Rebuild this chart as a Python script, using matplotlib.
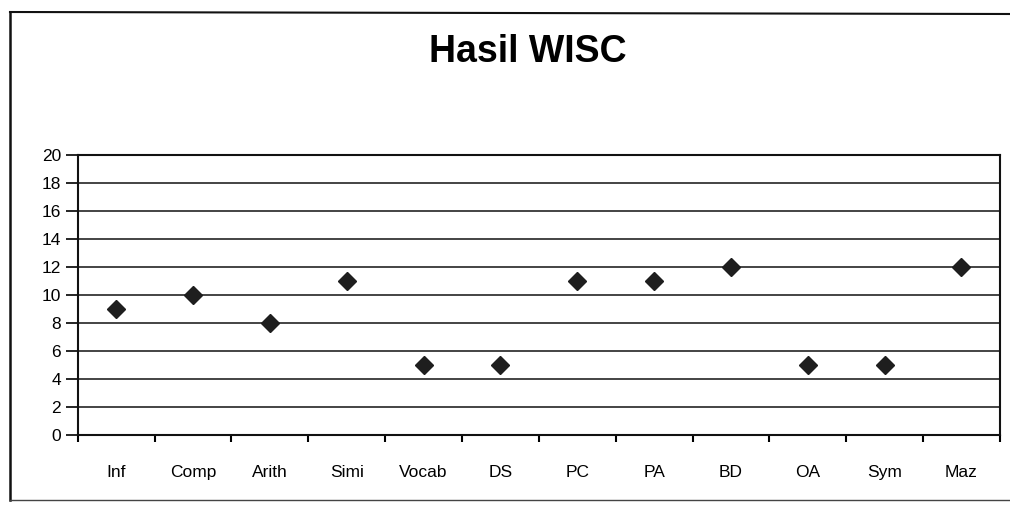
import matplotlib
matplotlib.use("Agg")
import matplotlib.pyplot as plt
from matplotlib.lines import Line2D

categories = ["Inf", "Comp", "Arith", "Simi", "Vocab", "DS", "PC", "PA", "BD", "OA", "Sym", "Maz"]
scores = [9, 10, 8, 11, 5, 5, 11, 11, 12, 5, 5, 12]
y_ticks = [0, 2, 4, 6, 8, 10, 12, 14, 16, 18, 20]
title = "Hasil WISC"

plt.rcParams['font.family'] = ['Liberation Sans', 'DejaVu Sans']

fig = plt.figure(figsize=(10.1, 5.05), dpi=100)
ax = fig.add_axes([0.077, 0.139, 0.913, 0.554])

x = list(range(len(categories)))
ax.plot(x, scores, linestyle='none', marker='D', markersize=9,
        color='#1e1e1e', zorder=3, clip_on=False)

ax.set_xlim(-0.5, len(categories) - 0.5)
ax.set_ylim(0, 20)
ax.set_yticks(y_ticks)
ax.set_yticklabels([str(t) for t in y_ticks], fontsize=12.5)
ax.yaxis.grid(True, color='#111111', linewidth=1.1)
ax.set_axisbelow(True)

# category labels centered, ticks at boundaries
ax.set_xticks(x)
ax.set_xticklabels(categories, fontsize=12.5)
ax.tick_params(axis='x', which='major', length=0, pad=22)
ax.set_xticks([i - 0.5 for i in range(len(categories) + 1)], minor=True)
ax.tick_params(axis='x', which='minor', length=5, width=1.5, direction='out')
ax.tick_params(axis='y', length=9, width=1.2, direction='out', pad=3)

for s in ax.spines.values():
    s.set_color('#111111')
    s.set_linewidth(1.5)

fig.text(0.523, 0.897, title, ha='center', va='center', fontsize=27, fontweight='bold')

# outer chart border
fig.add_artist(Line2D([10/1010, 10/1010], [1-12/505, 1-500/505], transform=fig.transFigure,
                      color='#111111', linewidth=1.8))
fig.add_artist(Line2D([10/1010, 1.0], [1-12/505, 1-14/505], transform=fig.transFigure,
                      color='#111111', linewidth=1.5))
fig.add_artist(Line2D([10/1010, 1.0], [1-500/505, 1-500/505], transform=fig.transFigure,
                      color='#444444', linewidth=1.0))

fig.savefig("out.png", dpi=100)
